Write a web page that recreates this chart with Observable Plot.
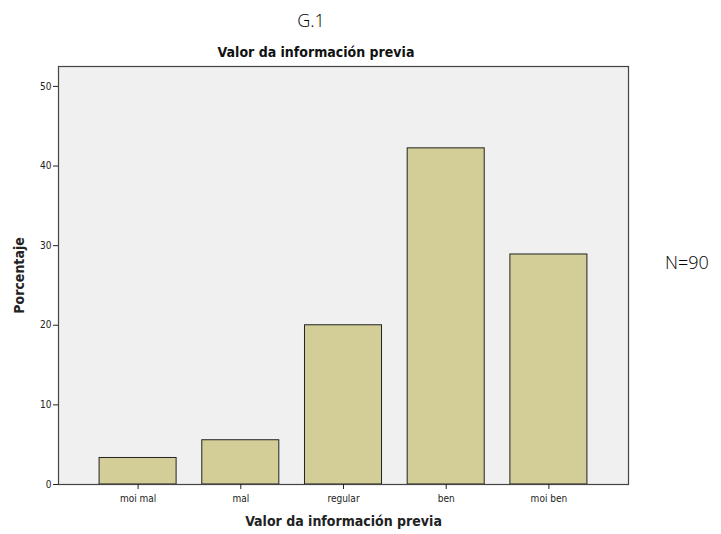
<!DOCTYPE html>
<html>
<head>
<meta charset="utf-8">
<script src="https://cdn.jsdelivr.net/npm/d3@7"></script>
<script src="https://cdn.jsdelivr.net/npm/@observablehq/plot@0.6"></script>
<style>
  html, body { margin: 0; padding: 0; background: #fff; }
  #wrap { position: relative; width: 721px; height: 534px; overflow: hidden; }
  #wrap svg { position: absolute; left: 0; top: 0; }
  .lab { position: absolute; white-space: nowrap; }
  #g1 { left: 311px; top: 8px; transform: translateX(-50%); font-family: "Open Sans", "Liberation Sans", sans-serif; font-weight: 300; font-size: 18px; color: #000; }
  #title { left: 316px; top: 44px; transform: translateX(-50%); font-family: "DejaVu Sans Condensed", "DejaVu Sans", sans-serif; font-weight: bold; font-size: 14px; color: #111; }
  #n { left: 665px; top: 250px; font-family: "Open Sans", "Liberation Sans", sans-serif; font-weight: 300; font-size: 18px; color: #000; }
</style>
</head>
<body>
<div id="wrap">
  <div class="lab" id="g1">G.1</div>
  <div class="lab" id="title">Valor da información previa</div>
  <div class="lab" id="n">N=90</div>
</div>
<script>
const categories = ["moi mal", "mal", "regular", "ben", "moi ben"];
const percentages = [3.33, 5.56, 20.0, 42.22, 28.89];
const yTicks = [0, 10, 20, 30, 40, 50];

const data = categories.map((c, i) => ({cat: c, pct: percentages[i]}));

const chart = Plot.plot({
  width: 721,
  height: 534,
  marginLeft: 58,
  marginRight: 93,
  marginTop: 66,
  marginBottom: 50,
  style: {fontFamily: "'DejaVu Sans Condensed', 'DejaVu Sans', sans-serif", fontSize: "10px", color: "#222", background: "transparent"},
  x: {domain: categories, paddingInner: 0.25, paddingOuter: 0.4, round: false},
  y: {domain: [0, 52.5]},
  marks: [
    Plot.frame({fill: "#f0f0f0", stroke: "none"}),
    Plot.barY(data, {x: "cat", y: "pct", fill: "#d3ce97", stroke: "#222", strokeWidth: 1}),
    Plot.frame({stroke: "#444", strokeWidth: 1.2}),
    Plot.axisY({ticks: yTicks, tickSize: 5, tickPadding: 2, tickFormat: d => d, label: "Porcentaje", labelAnchor: "center", labelArrow: "none", labelOffset: 44, fontSize: 10}),
    Plot.axisX({tickSize: 5, tickPadding: 5, label: "Valor da información previa", labelAnchor: "center", labelArrow: "none", labelOffset: 41, fontSize: 10})
  ]
});
chart.querySelectorAll("g[aria-label='y-axis label'] text, g[aria-label='x-axis label'] text").forEach(t => {
  t.setAttribute("font-weight", "bold");
  t.setAttribute("font-size", "14");
});
document.getElementById("wrap").prepend(chart);
</script>
</body>
</html>
